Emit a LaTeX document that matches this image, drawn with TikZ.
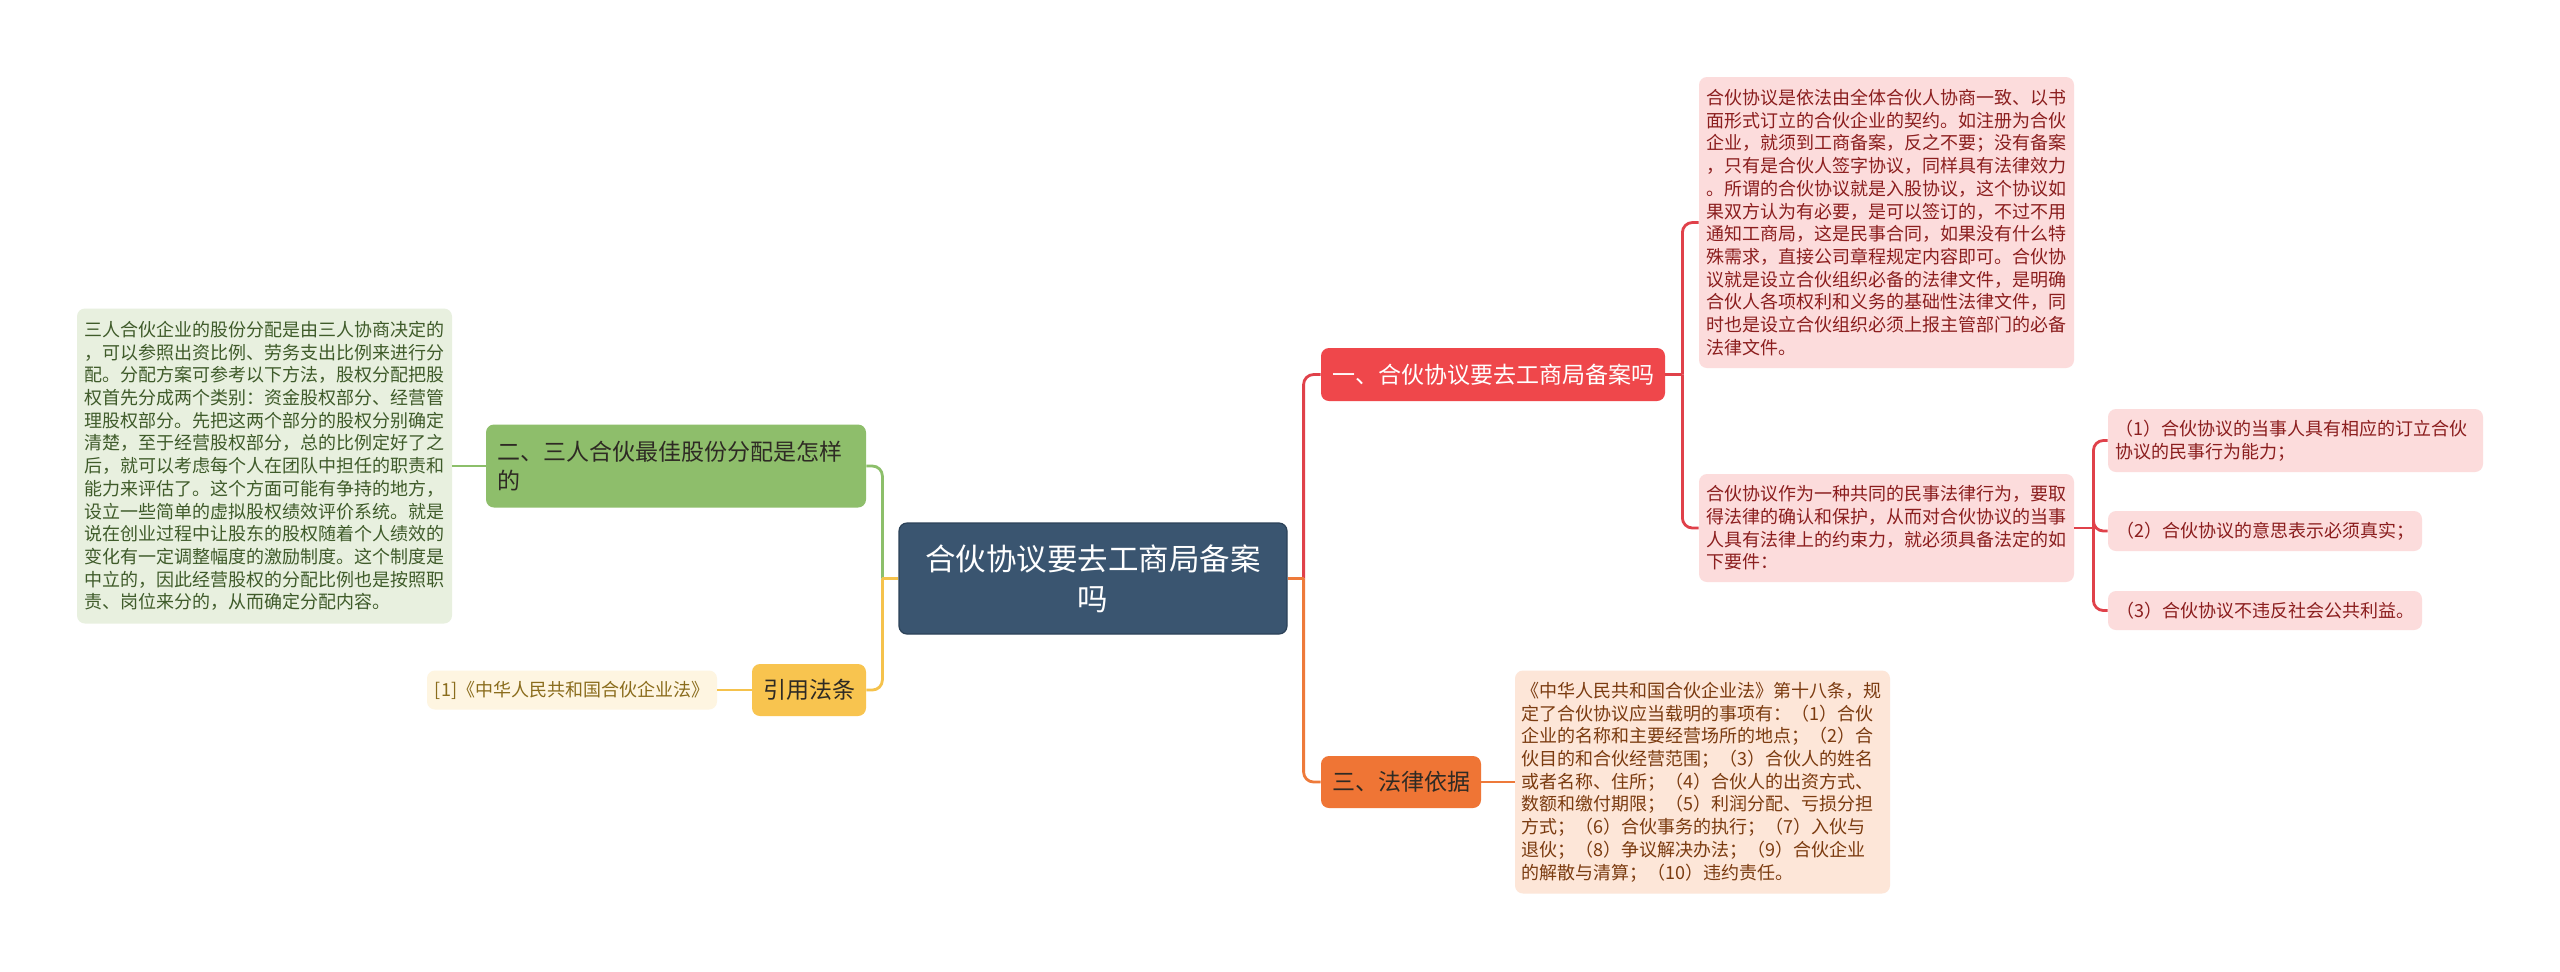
\documentclass[tikz,border=0pt]{standalone}
\usepackage{fontspec}
\setmainfont{Noto Sans CJK SC}
\definecolor{cfill}{HTML}{3A5570}
\definecolor{cdraw}{HTML}{2C4258}
\definecolor{rnode}{HTML}{EF474B}
\definecolor{rline}{HTML}{E0414A}
\definecolor{rlight}{HTML}{FCDCDC}
\definecolor{rtext}{HTML}{8B1E1E}
\definecolor{onode}{HTML}{EF7535}
\definecolor{oline}{HTML}{EE7A3A}
\definecolor{olight}{HTML}{FDE6D8}
\definecolor{otext}{HTML}{7B3B10}
\definecolor{gnode}{HTML}{8EBE6B}
\definecolor{gline}{HTML}{8CBF6A}
\definecolor{glight}{HTML}{E8F0DF}
\definecolor{gtext}{HTML}{3F5B2A}
\definecolor{ynode}{HTML}{F8C44F}
\definecolor{yline}{HTML}{F5C24C}
\definecolor{ylight}{HTML}{FEF5E1}
\definecolor{ytext}{HTML}{8A6C1C}
\definecolor{darktext}{HTML}{2E2A24}
\newcommand\fsmall{\fontsize{9pt}{11.35pt}\selectfont}
\newcommand\fmid{\fontsize{11.5pt}{14.5pt}\selectfont}
\newcommand\fbig{\fontsize{15.25pt}{20pt}\selectfont}
\begin{document}
\begin{tikzpicture}[x=0.5pt,y=-0.5pt,
  box/.style={rounded corners=4pt, inner sep=0pt, align=left},
  small/.style={box, font=\fsmall},
  mid/.style={box, font=\fmid},
  conn/.style={line width=1.4pt},
  rc/.style={rounded corners=5pt},
  redl/.style={conn, draw=rline},
  orgl/.style={conn, draw=oline},
  grnl/.style={conn, draw=gline},
  yell/.style={conn, draw=yline}]
\useasboundingbox (0,0) rectangle (2560,971);
\fill[white] (0,0) rectangle (2560,971);

% central
\node[box, align=center, fill=cfill, draw=cdraw, line width=0.6pt, text=white, font=\fbig,
  minimum width=194pt, minimum height=55.5pt, text width=185pt] (c) at (1093,578.5)
  {合伙协议要去工商局备案\\吗};

% main branches
\node[mid, fill=rnode, text=white, minimum width=172pt, minimum height=26.5pt, align=center] (n1) at (1493,374.5) {一、合伙协议要去工商局备案吗};
\node[mid, fill=onode, text=darktext, minimum width=80pt, minimum height=26pt, align=center] (n3) at (1401,782) {三、法律依据};
\node[mid, fill=gnode, text=darktext, minimum width=190pt, minimum height=41.5pt, text width=179pt] (n2) at (676,466) {二、三人合伙最佳股份分配是怎样\\的};
\node[mid, fill=ynode, text=darktext, minimum width=57pt, minimum height=26pt, align=center] (n4) at (809,690) {引用法条};

% red detail boxes
\node[small, fill=rlight, text=rtext, minimum width=187.5pt, minimum height=145.5pt, text width=180pt] (b1) at (1886.5,222.5)
{合伙协议是依法由全体合伙人协商一致、以书\\
面形式订立的合伙企业的契约。如注册为合伙\\
企业，就须到工商备案，反之不要；没有备案\\
，只有是合伙人签字协议，同样具有法律效力\\
。所谓的合伙协议就是入股协议，这个协议如\\
果双方认为有必要，是可以签订的，不过不用\\
通知工商局，这是民事合同，如果没有什么特\\
殊需求，直接公司章程规定内容即可。合伙协\\
议就是设立合伙组织必备的法律文件，是明确\\
合伙人各项权利和义务的基础性法律文件，同\\
时也是设立合伙组织必须上报主管部门的必备\\
法律文件。};
\node[small, fill=rlight, text=rtext, minimum width=187.5pt, minimum height=54pt, text width=180pt] (b2) at (1886.5,528)
{合伙协议作为一种共同的民事法律行为，要取\\
得法律的确认和保护，从而对合伙协议的当事\\
人具有法律上的约束力，就必须具备法定的如\\
下要件：};
\node[small, fill=rlight, text=rtext, minimum width=187.5pt, minimum height=31.5pt, text width=180pt] (i1) at (2295.5,440.5)
{（1）合伙协议的当事人具有相应的订立合伙\\
协议的民事行为能力；};
\node[small, fill=rlight, text=rtext, minimum width=157pt, minimum height=20pt, align=center] (i2) at (2265,531) {（2）合伙协议的意思表示必须真实；};
\node[small, fill=rlight, text=rtext, minimum width=157pt, minimum height=19.5pt, align=center] (i3) at (2265,610.5) {（3）合伙协议不违反社会公共利益。};

% orange detail
\node[small, fill=olight, text=otext, minimum width=187.5pt, minimum height=111.5pt, text width=181pt] (ob) at (1702.5,782)
{《中华人民共和国合伙企业法》第十八条，规\\
定了合伙协议应当载明的事项有：（1）合伙\\
企业的名称和主要经营场所的地点；（2）合\\
伙目的和合伙经营范围；（3）合伙人的姓名\\
或者名称、住所；（4）合伙人的出资方式、\\
数额和缴付期限；（5）利润分配、亏损分担\\
方式；（6）合伙事务的执行；（7）入伙与\\
退伙；（8）争议解决办法；（9）合伙企业\\
的解散与清算；（10）违约责任。};

% green detail
\node[small, fill=glight, text=gtext, minimum width=187.5pt, minimum height=157.5pt, text width=180pt] (gb) at (264.5,466)
{三人合伙企业的股份分配是由三人协商决定的\\
，可以参照出资比例、劳务支出比例来进行分\\
配。分配方案可参考以下方法，股权分配把股\\
权首先分成两个类别：资金股权部分、经营管\\
理股权部分。先把这两个部分的股权分别确定\\
清楚，至于经营股权部分，总的比例定好了之\\
后，就可以考虑每个人在团队中担任的职责和\\
能力来评估了。这个方面可能有争持的地方，\\
设立一些简单的虚拟股权绩效评价系统。就是\\
说在创业过程中让股东的股权随着个人绩效的\\
变化有一定调整幅度的激励制度。这个制度是\\
中立的，因此经营股权的分配比例也是按照职\\
责、岗位来分的，从而确定分配内容。};

% yellow detail
\node[small, fill=ylight, text=ytext, minimum width=145pt, minimum height=19.5pt, align=center] (rb) at (572,690) {[1]《中华人民共和国合伙企业法》};

% junction coordinates
\coordinate (jr) at ([xshift=8pt]c.east);
\coordinate (jl) at ([xshift=-8pt]c.west);
\coordinate (j1) at ([xshift=8.5pt]n1.east);
\coordinate (j2) at ([xshift=9.5pt]b2.east);

% connectors
\draw[redl] (c.east) -- (jr);
\draw[redl, rc] (jr) |- (n1.west);
\draw[orgl] (c.east) -- (jr);
\draw[orgl, rc] (jr) |- (n3.west);
\draw[grnl] (c.west) -- (jl);
\draw[grnl, rc] (jl) |- (n2.east);
\draw[yell] (c.west) -- (jl);
\draw[yell, rc] (jl) |- (n4.east);

\draw[redl] (n1.east) -- (j1);
\draw[redl, rc] (j1) |- (b1.west);
\draw[redl, rc] (j1) |- (b2.west);
\draw[redl] (b2.east) -- (j2);
\draw[redl, rc] (j2) |- (i1.west);
\draw[redl, rc] (j2) |- (i2.west);
\draw[redl, rc] (j2) |- (i3.west);

\draw[orgl] (n3.east) -- (ob.west);
\draw[grnl] (n2.west) -- (gb.east);
\draw[yell] (n4.west) -- (rb.east);
\end{tikzpicture}
\end{document}
